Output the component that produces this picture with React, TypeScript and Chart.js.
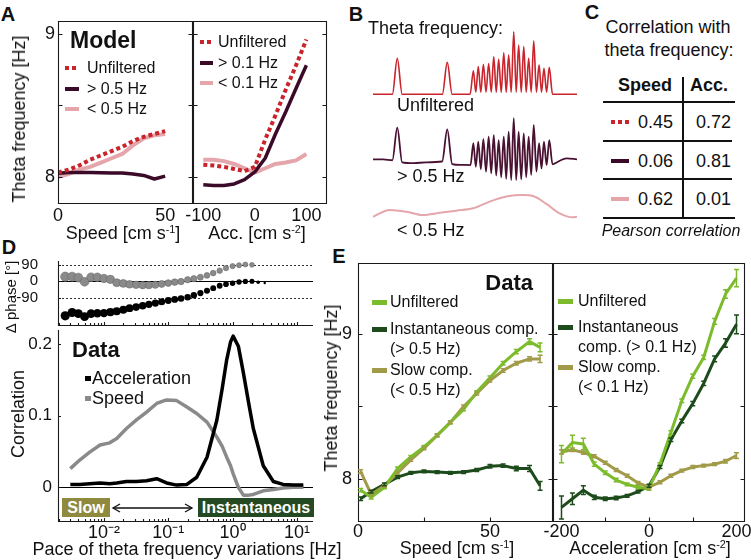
import React, { useEffect, useRef } from "react";
import { Chart, registerables } from "chart.js";

const FONT = '"Liberation Sans", Arial, Helvetica, sans-serif';
const INK = "#111111";

const RED = "#c9232b";
const PURPLE = "#3b0a29";
const PINK = "#e4a6ab";
const LGREEN = "#7cbc2c";
const DGREEN = "#1e4b1c";
const OLIVE = "#a19a48";
const GREY = "#8a8a8a";
const BLACK = "#000000";

// ---------------- Panel A (model) ----------------
const aSpeedX = [0, 5, 10, 15, 20, 25, 30, 35, 40, 45, 50];
const aSpeedUnf = [8.03, 8.05, 8.08, 8.12, 8.15, 8.18, 8.21, 8.25, 8.28, 8.30, 8.32];
const aSpeedHigh = [8.025, 8.03, 8.03, 8.03, 8.028, 8.027, 8.026, 8.02, 8.01, 7.985, 8.005];
const aSpeedLow = [8.0, 8.02, 8.05, 8.07, 8.10, 8.13, 8.16, 8.22, 8.27, 8.29, 8.30];
const aAccX = [-100, -80, -60, -40, -20, 0, 20, 40, 60, 80, 100];
const aAccUnf = [8.085, 8.08, 8.07, 8.055, 8.04, 8.07, 8.26, 8.43, 8.61, 8.78, 8.96];
const aAccHigh = [7.945, 7.94, 7.94, 7.95, 7.98, 8.035, 8.13, 8.30, 8.455, 8.62, 8.78];
const aAccLow = [8.12, 8.12, 8.11, 8.09, 8.06, 8.03, 8.06, 8.09, 8.10, 8.115, 8.16];
const aYTicks = [8, 8.5, 9];
const aYLabels = ["8", "", "9"];
const aSpeedTicks = [0, 50];
const aAccTicks = [-100, 0, 100];

// ---------------- Panel B (schematic traces) ----------------
const bRedT = [0, 9.5, 11.9, 14.3, 34, 36.4, 38.8, 47.6,
  49.2, 50.4, 51.6, 52.85, 54.1, 55.4, 56.7, 57.95, 59.2, 60.4, 61.6, 62.85, 64.1, 65.3, 66.5, 67.75,
  69.0, 70.2, 71.4, 72.65, 73.9, 75.1, 76.3, 77.55, 78.8, 80.1, 81.4, 82.6, 83.8, 85.1, 86.4,
  88.0, 100];
const bRedY = [67, 67, 84.1, 67, 67, 82.2, 67, 67,
  78.2, 68, 80.2, 68, 81.3, 68, 81.7, 68, 84.9, 68, 83.7, 68, 86.8, 68, 85.7, 68,
  96.8, 68, 90.5, 68, 89.7, 68, 84.1, 68, 92.5, 68, 81.0, 68, 79.4, 68, 79.8,
  67, 67];
const bPurT = [0, 5, 9.5, 11.9, 14.3, 20, 26, 33.9, 36.4, 38.8, 43, 47.8,
  49.2, 50.4, 51.6, 52.85, 54.1, 55.4, 56.7, 57.95, 59.2, 60.4, 61.6, 62.85, 64.1, 65.3, 66.5, 67.75,
  69.0, 70.2, 71.4, 72.65, 73.9, 75.1, 76.3, 77.55, 78.8, 80.1, 81.4, 82.6, 83.8, 85.1, 86.4,
  88.0, 89.2, 94.9, 100];
const bPurY = [36, 36, 35.6, 51.1, 34.6, 34.2, 34.6, 35, 50.3, 33.8, 33.4, 33.3,
  43.7, 32.5, 44.4, 31.3, 45.6, 30.2, 46.8, 29.4, 47.6, 28.3, 45.2, 27.5, 46.8, 26.7, 49.2, 26.2,
  55.6, 26.2, 49.2, 26.5, 48.4, 27.5, 46.8, 28.6, 52.4, 30.2, 43.7, 31.7, 44.4, 33.3, 45.2,
  33.6, 34.1, 36.5, 36];
const bPinkT = [0, 8.2, 16.3, 24.5, 32.7, 40.8, 49, 57.2, 65.4, 73.5, 78.4, 85, 91.5, 98, 100];
const bPinkY = [8.7, 11.9, 11.1, 9.5, 10.6, 11.6, 12.7, 15.9, 18.3, 19.0, 18.6, 14.8, 10.3, 8.4, 8.7];

// ---------------- Panel D ----------------
const dPhaseF = [0.0025, 0.0032, 0.004, 0.005, 0.0063, 0.0079, 0.01, 0.0126, 0.0158, 0.02, 0.025, 0.0316,
  0.04, 0.05, 0.063, 0.079, 0.1, 0.126, 0.158, 0.2, 0.25, 0.316, 0.4, 0.5, 0.63, 0.79, 1.0, 1.26, 1.58, 2.0, 2.5, 3.16];
const dPhaseSpeed = [25, 25, 20, -3, 22, 22, 15, 10, -8, -12, -17, -20, -22, -22, -20, -15, -10, -5, -2, 8,
  14, 22, 32, 45, 58, 72, 83, 88, 92, 90];
const dPhaseAcc = [-190, -172, -178, -195, -178, -176, -175, -170, -165, -157, -148, -142, -135, -127, -120,
  -113, -106, -100, -95, -88, -77, -65, -52, -38, -25, -16, -11, -4, -1, 0, -6, -10];
const dPhaseTicks = [90, 0, -90];
const dPhaseLabels = ["90", "0", "-90"];

const dCorrF = [0.003, 0.0042, 0.006, 0.0087, 0.0123, 0.0158, 0.0224, 0.032, 0.046, 0.066, 0.094, 0.135,
  0.195, 0.277, 0.40, 0.57, 0.69, 0.81, 0.93, 1.02, 1.23, 1.47, 1.8, 2.1, 3.0, 4.3, 6.1, 8.8, 12.6];
const dCorrSpeed = [0.026, 0.038, 0.049, 0.059, 0.062, 0.068, 0.082, 0.094, 0.105, 0.117, 0.122, 0.121,
  0.112, 0.103, 0.091, 0.070, 0.057, 0.042, 0.030, 0.019, 0.0, -0.011, -0.011, -0.010, -0.005, -0.003, -0.001, 0, 0];
const dCorrAcc = [0.004, 0.004, 0.005, 0.006, 0.005, 0.006, 0.008, 0.008, 0.009, 0.012, 0.006, 0.003,
  0.004, 0.014, 0.042, 0.094, 0.138, 0.178, 0.203, 0.211, 0.197, 0.16, 0.115, 0.082, 0.03, 0.008, 0.004, 0.003, 0.003];
const dCorrTicks = [0, 0.1, 0.2];
const dCorrLabels = ["0", "0.1", "0.2"];
const dFreqTicks = [0.01, 0.1, 1, 10];
const dFreqLabels = ["10⁻²", "10⁻¹", "10⁰", "10¹"];
const dMinorTicks = [0.002, 0.003, 0.004, 0.005, 0.006, 0.007, 0.008, 0.009,
  0.02, 0.03, 0.04, 0.05, 0.06, 0.07, 0.08, 0.09, 0.2, 0.3, 0.4, 0.5, 0.6, 0.7, 0.8, 0.9,
  2, 3, 4, 5, 6, 7, 8, 9];

// ---------------- Panel E (data) ----------------
const eSpeedX = [1, 5, 10, 15, 20, 25, 30, 35, 40, 45, 50, 55, 60, 65, 69];
const eSpeedUnf = [7.92, 7.87, 7.94, 8.07, 8.15, 8.22, 8.30, 8.39, 8.48, 8.60, 8.70, 8.80, 8.88, 8.95, 8.91];
const eSpeedInst = [7.86, 7.91, 7.96, 8.01, 8.04, 8.05, 8.045, 8.04, 8.045, 8.06, 8.085, 8.09, 8.07, 8.07, 7.95];
const eSpeedSlow = [8.05, 7.89, 7.95, 8.04, 8.13, 8.21, 8.30, 8.39, 8.50, 8.59, 8.68, 8.75, 8.80, 8.83, 8.83];
const eSpeedUnfErr = [0.012, 0.012, 0.01, 0.01, 0.01, 0.01, 0.01, 0.01, 0.01, 0.01, 0.012, 0.012, 0.015, 0.02, 0.03];
const eSpeedInstErr = [0.012, 0.01, 0.01, 0.01, 0.01, 0.01, 0.01, 0.01, 0.01, 0.01, 0.012, 0.012, 0.015, 0.02, 0.03];
const eSpeedSlowErr = [0.012, 0.01, 0.01, 0.01, 0.01, 0.01, 0.01, 0.01, 0.01, 0.01, 0.01, 0.012, 0.012, 0.015, 0.025];
const eAccX = [-200, -175, -150, -125, -100, -75, -50, -25, 0, 25, 50, 75, 100, 125, 150, 175, 200];
const eAccUnf = [8.17, 8.25, 8.24, 8.10, 8.04, 7.99, 7.96, 7.94, 7.93, 8.10, 8.32, 8.54, 8.71, 8.84, 9.09, 9.28, 9.39];
const eAccInst = [7.80, 7.86, 7.92, 7.87, 7.86, 7.865, 7.88, 7.91, 7.95, 8.08, 8.27, 8.40, 8.52, 8.66, 8.83, 8.94, 9.07];
const eAccSlow = [8.185, 8.20, 8.18, 8.155, 8.11, 8.06, 8.02, 7.97, 7.94, 7.975, 8.02, 8.055, 8.08, 8.09, 8.10, 8.12, 8.16];
const eAccUnfErr = [0.06, 0.05, 0.04, 0.015, 0.012, 0.012, 0.01, 0.01, 0.01, 0.01, 0.012, 0.012, 0.015, 0.015, 0.02, 0.03, 0.06];
const eAccInstErr = [0.08, 0.04, 0.03, 0.015, 0.012, 0.012, 0.01, 0.01, 0.01, 0.01, 0.012, 0.012, 0.015, 0.015, 0.02, 0.03, 0.065];
const eAccSlowErr = [0.015, 0.012, 0.012, 0.01, 0.01, 0.01, 0.01, 0.01, 0.01, 0.01, 0.01, 0.01, 0.01, 0.01, 0.01, 0.012, 0.02];
const eYTicks = [8, 8.5, 9];
const eYLabels = ["8", "", "9"];
const eSpeedTicks = [0, 25, 50];
const eSpeedLabels = ["0", "", "50"];
const eAccTicks = [-200, -100, 0, 100, 200];
const eAccLabels = ["-200", "", "0", "", "200"];

// ---------------- plugins ----------------
const framePlugin = {
  id: "frame",
  beforeDatasetsDraw(chart: any) {
    const o = chart.config.options.plugins?.frame;
    if (!o) return;
    const { ctx, chartArea: a, scales } = chart;
    ctx.save();
    for (const h of o.hlines || []) {
      const y = Math.round(scales.y.getPixelForValue(h.v)) + 0.5;
      ctx.beginPath();
      ctx.setLineDash(h.dash || []);
      ctx.strokeStyle = h.color || "#000";
      ctx.lineWidth = h.w || 1;
      ctx.moveTo(a.left, y);
      ctx.lineTo(a.right, y);
      ctx.stroke();
    }
    ctx.restore();
  },
  afterDatasetsDraw(chart: any) {
    const o = chart.config.options.plugins?.frame;
    if (!o) return;
    const { ctx, chartArea: a, scales } = chart;
    const L = Math.round(a.left) + 0.5, R = Math.round(a.right) - 0.5;
    const T = Math.round(a.top) + 0.5, B = Math.round(a.bottom) - 0.5;
    ctx.save();
    ctx.setLineDash([]);
    ctx.strokeStyle = o.color || "#1a1a1a";
    ctx.lineWidth = o.lw || 1.1;
    ctx.beginPath();
    if (o.left) { ctx.moveTo(L, T - 0.5); ctx.lineTo(L, B + 0.5); }
    if (o.right) { ctx.moveTo(R, T - 0.5); ctx.lineTo(R, B + 0.5); }
    if (o.top) { ctx.moveTo(L - 0.5, T); ctx.lineTo(R + 0.5, T); }
    if (o.bottom) { ctx.moveTo(L - 0.5, B); ctx.lineTo(R + 0.5, B); }
    const tl = o.tl ?? 4;
    for (const v of o.xt || []) {
      const x = Math.round(scales.x.getPixelForValue(v)) + 0.5;
      ctx.moveTo(x, B); ctx.lineTo(x, B - tl);
    }
    for (const v of o.xtMajor || []) {
      const x = Math.round(scales.x.getPixelForValue(v)) + 0.5;
      ctx.moveTo(x, B); ctx.lineTo(x, B - (o.tlMajor ?? 5));
    }
    for (const v of o.yt || []) {
      const y = Math.round(scales.y.getPixelForValue(v)) + 0.5;
      ctx.moveTo(L, y); ctx.lineTo(L + tl, y);
      if (o.ytRight) { ctx.moveTo(R, y); ctx.lineTo(R - tl, y); }
    }
    ctx.stroke();
    ctx.restore();
  },
};

const errPlugin = {
  id: "errbars",
  afterDatasetsDraw(chart: any) {
    const { ctx, scales } = chart;
    chart.data.datasets.forEach((ds: any) => {
      if (!ds.errors) return;
      ctx.save();
      ctx.strokeStyle = ds.borderColor;
      ctx.lineWidth = 1.5;
      ds.data.forEach((p: any, j: number) => {
        const e = ds.errors[j];
        if (!e) return;
        const x = scales.x.getPixelForValue(p.x);
        const y1 = scales.y.getPixelForValue(p.y - e);
        const y2 = scales.y.getPixelForValue(p.y + e);
        ctx.beginPath();
        ctx.moveTo(x, y1); ctx.lineTo(x, y2);
        ctx.moveTo(x - 2.5, y1); ctx.lineTo(x + 2.5, y1);
        ctx.moveTo(x - 2.5, y2); ctx.lineTo(x + 2.5, y2);
        ctx.stroke();
      });
      ctx.restore();
    });
  },
};

Chart.register(...registerables, framePlugin as any, errPlugin as any);

// ---------------- helpers ----------------
function axis(o: {
  type?: string; min: number; max: number; vals: number[]; labels?: string[];
  size?: number; pad?: number; fit: number; horiz: boolean;
}) {
  return {
    type: o.type || "linear",
    min: o.min,
    max: o.max,
    bounds: "data",
    grid: { display: false, drawTicks: false },
    border: { display: false },
    ticks: {
      display: !!o.labels,
      autoSkip: false,
      maxRotation: 0,
      minRotation: 0,
      padding: o.pad ?? 2,
      font: { family: FONT, size: o.size ?? 18 },
      color: INK,
      callback: (_v: any, i: number) => (o.labels ? o.labels[i] : ""),
    },
    afterBuildTicks: (s: any) => {
      s.ticks = o.vals.map((v) => ({ value: v }));
    },
    afterFit: (s: any) => {
      if (o.horiz) s.height = o.fit; else s.width = o.fit;
      s.paddingLeft = 0; s.paddingRight = 0; s.paddingTop = 0; s.paddingBottom = 0;
    },
  };
}

function lineDs(xs: number[], ys: number[], color: string, width: number, extra: any = {}) {
  return {
    data: xs.map((x, i) => ({ x, y: ys[i] })),
    borderColor: color,
    backgroundColor: color,
    borderWidth: width,
    pointRadius: 0,
    fill: false,
    tension: 0,
    borderCapStyle: "butt",
    borderJoinStyle: "round",
    ...extra,
  };
}

function cfg(datasets: any[], x: any, y: any, frame: any) {
  return {
    type: "line",
    data: { datasets },
    options: {
      animation: false,
      responsive: false,
      devicePixelRatio: 1,
      events: [],
      plugins: { legend: { display: false }, tooltip: { enabled: false }, frame },
      scales: { x, y },
    },
  };
}

function Plot({ area, m, build }: { area: number[]; m: number[]; build: (ml: number, mb: number) => any }) {
  const ref = useRef<HTMLCanvasElement>(null);
  const [l, t, r, b] = area;
  const [ml, mt, mr, mb] = m;
  const W = r - l + ml + mr;
  const H = b - t + mt + mb;
  useEffect(() => {
    const c = build(ml, mb);
    c.options.layout = { padding: { left: 0, top: mt, right: mr, bottom: 0 } };
    const ch = new Chart(ref.current as HTMLCanvasElement, c);
    return () => ch.destroy();
  }, []);
  return (
    <canvas
      ref={ref}
      width={W}
      height={H}
      style={{ position: "absolute", left: l - ml, top: t - mt, width: W, height: H }}
    />
  );
}

function Txt({ x, y, s = 18, b = false, i = false, a = "l", rot = false, color = INK, children }: any) {
  const tx = a === "c" ? "-50%" : a === "r" ? "-100%" : "0";
  return (
    <div
      style={{
        position: "absolute",
        left: x,
        top: y,
        transform: `translate(${tx}, -50%)${rot ? " rotate(-90deg)" : ""}`,
        fontFamily: FONT,
        fontSize: s,
        fontWeight: b ? 700 : 400,
        fontStyle: i ? "italic" : "normal",
        lineHeight: 1,
        whiteSpace: "nowrap",
        color,
      }}
    >
      {children}
    </div>
  );
}

const Sup = ({ children }: any) => (
  <sup style={{ fontSize: "0.6em", verticalAlign: "0.55em", lineHeight: 0 }}>{children}</sup>
);

function Sw({ x, y, w, h, color, dotted = false }: any) {
  return (
    <div
      style={{
        position: "absolute",
        left: x,
        top: y - h / 2,
        width: w,
        height: h,
        background: dotted
          ? `repeating-linear-gradient(to right, ${color} 0px, ${color} 4px, transparent 4px, transparent 7px)`
          : color,
      }}
    />
  );
}

function Rule({ x1, y1, x2, y2, w = 1.5 }: any) {
  const horiz = y1 === y2;
  return (
    <div
      style={{
        position: "absolute",
        left: horiz ? x1 : x1 - w / 2,
        top: horiz ? y1 - w / 2 : y1,
        width: horiz ? x2 - x1 : w,
        height: horiz ? w : y2 - y1,
        background: INK,
      }}
    />
  );
}

function Badge({ x, y, w, h, bg, children }: any) {
  return (
    <div
      style={{
        position: "absolute",
        left: x,
        top: y,
        width: w,
        height: h,
        background: bg,
        color: "#fff",
        fontFamily: FONT,
        fontWeight: 700,
        fontSize: 16,
        lineHeight: `${h}px`,
        textAlign: "center",
        whiteSpace: "nowrap",
      }}
    >
      {children}
    </div>
  );
}

// ---------------- App ----------------
export default function App() {
  const phaseRadius = (n: number, tail: boolean) => (ctx: any) => {
    const i = ctx.dataIndex;
    if (tail && i >= n - 2) return i === n - 1 ? 1.2 : 1.8;
    return 4.6 - 2.2 * (i / (n - 1));
  };

  return (
    <div style={{ position: "absolute", left: 0, top: 0, width: 751, height: 560, background: "#fff", overflow: "hidden" }}>
      {/* Panel letters */}
      <Txt x={8} y={14} s={20} b a="c">A</Txt>
      <Txt x={356} y={14} s={20} b a="c">B</Txt>
      <Txt x={592} y={12} s={20} b a="c">C</Txt>
      <Txt x={9} y={247} s={20} b a="c">D</Txt>
      <Txt x={339} y={256} s={20} b a="c">E</Txt>

      {/* ---------- Panel A ---------- */}
      <Plot
        area={[58, 21, 193, 204]}
        m={[58, 4, 2, 26]}
        build={(ml, mb) =>
          cfg(
            [
              lineDs(aSpeedX, aSpeedUnf, RED, 4, { borderDash: [4, 3] }),
              lineDs(aSpeedX, aSpeedHigh, PURPLE, 3.5),
              lineDs(aSpeedX, aSpeedLow, PINK, 4),
            ],
            axis({ min: 0, max: 63, vals: aSpeedTicks, labels: ["0", "50"], fit: mb, horiz: true, pad: 1 }),
            axis({ min: 7.81, max: 9.09, vals: aYTicks, labels: aYLabels, fit: ml, horiz: false, pad: 3 }),
            { left: true, right: true, top: true, bottom: true, yt: aYTicks, ytRight: true, tl: 4 }
          )
        }
      />
      <Plot
        area={[193, 21, 327, 204]}
        m={[26, 4, 8, 26]}
        build={(ml, mb) =>
          cfg(
            [
              lineDs(aAccX, aAccUnf, RED, 4, { borderDash: [4, 3] }),
              lineDs(aAccX, aAccHigh, PURPLE, 3.5),
              lineDs(aAccX, aAccLow, PINK, 4),
            ],
            axis({ min: -120, max: 140, vals: aAccTicks, labels: ["-100", "0", "100"], fit: mb, horiz: true, pad: 1 }),
            axis({ min: 7.81, max: 9.09, vals: aYTicks, fit: ml, horiz: false }),
            { left: true, right: true, top: true, bottom: true, yt: aYTicks, ytRight: true, tl: 4 }
          )
        }
      />
      <Txt x={19} y={119} rot a="c">Theta frequency [Hz]</Txt>
      <Txt x={123} y={233} a="c">Speed [cm s<Sup>-1</Sup>]</Txt>
      <Txt x={257} y={233} a="c">Acc. [cm s<Sup>-2</Sup>]</Txt>
      <Txt x={70} y={40} s={23} b>Model</Txt>
      <Sw x={65} y={68} w={14} h={4} color={RED} dotted />
      <Txt x={87} y={68} s={16}>Unfiltered</Txt>
      <Sw x={65} y={89} w={14} h={4} color={PURPLE} />
      <Txt x={87} y={89} s={16}>&gt; 0.5 Hz</Txt>
      <Sw x={65} y={109} w={14} h={4} color={PINK} />
      <Txt x={87} y={109} s={16}>&lt; 0.5 Hz</Txt>
      <Sw x={200} y={42} w={13} h={4} color={RED} dotted />
      <Txt x={218} y={42} s={16}>Unfiltered</Txt>
      <Sw x={200} y={63} w={13} h={4} color={PURPLE} />
      <Txt x={218} y={63} s={16}>&gt; 0.1 Hz</Txt>
      <Sw x={200} y={83} w={13} h={4} color={PINK} />
      <Txt x={218} y={83} s={16}>&lt; 0.1 Hz</Txt>

      {/* ---------- Panel B ---------- */}
      <Plot
        area={[373, 25, 577, 235]}
        m={[0, 0, 0, 0]}
        build={(ml, mb) =>
          cfg(
            [
              lineDs(bRedT, bRedY, RED, 1.6, { cubicInterpolationMode: "monotone" }),
              lineDs(bPurT, bPurY, "#4a1232", 1.8, { cubicInterpolationMode: "monotone" }),
              lineDs(bPinkT, bPinkY, PINK, 2, { cubicInterpolationMode: "monotone" }),
            ],
            axis({ min: 0, max: 100, vals: [], fit: mb, horiz: true }),
            axis({ min: 0, max: 100, vals: [], fit: ml, horiz: false }),
            null
          )
        }
      />
      <Txt x={368} y={28}>Theta frequency:</Txt>
      <Txt x={397} y={105}>Unfiltered</Txt>
      <Txt x={397} y={176}>&gt; 0.5 Hz</Txt>
      <Txt x={397} y={230}>&lt; 0.5 Hz</Txt>

      {/* ---------- Panel C ---------- */}
      <Txt x={668} y={27} a="c">Correlation with</Txt>
      <Txt x={669} y={50} a="c">theta frequency:</Txt>
      <Txt x={672} y={85} b a="r">Speed</Txt>
      <Txt x={690} y={85} b>Acc.</Txt>
      <Rule x1={603} y1={102} x2={735} y2={102} />
      <Rule x1={603} y1={141} x2={732} y2={141} />
      <Rule x1={603} y1={179} x2={732} y2={179} />
      <Rule x1={603} y1={218} x2={735} y2={218} />
      <Rule x1={683} y1={77} x2={683} y2={218} />
      <Sw x={611} y={122} w={19} h={4} color={RED} dotted />
      <Sw x={611} y={161} w={18} h={4} color={PURPLE} />
      <Sw x={611} y={199} w={18} h={4} color={PINK} />
      <Txt x={673} y={122} a="r">0.45</Txt>
      <Txt x={731} y={122} a="r">0.72</Txt>
      <Txt x={673} y={161} a="r">0.06</Txt>
      <Txt x={731} y={161} a="r">0.81</Txt>
      <Txt x={673} y={199} a="r">0.62</Txt>
      <Txt x={731} y={199} a="r">0.01</Txt>
      <Txt x={671} y={231} s={16} i a="c">Pearson correlation</Txt>

      {/* ---------- Panel D ---------- */}
      <Plot
        area={[58, 259, 313, 330]}
        m={[58, 3, 6, 1]}
        build={(ml, mb) =>
          cfg(
            [
              lineDs(dPhaseF.slice(0, dPhaseSpeed.length), dPhaseSpeed, GREY, 0.6, {
                showLine: false,
                pointRadius: phaseRadius(dPhaseSpeed.length, false),
                pointBackgroundColor: GREY,
                pointBorderColor: "#6a6a6a",
                pointBorderWidth: 0.6,
              }),
              lineDs(dPhaseF, dPhaseAcc, BLACK, 0.6, {
                showLine: false,
                pointRadius: phaseRadius(dPhaseAcc.length, true),
                pointBackgroundColor: BLACK,
                pointBorderColor: BLACK,
                pointBorderWidth: 0,
              }),
            ],
            axis({ type: "logarithmic", min: 0.00193, max: 17.8, vals: dFreqTicks, fit: mb, horiz: true }),
            axis({ min: -245, max: 110, vals: dPhaseTicks, labels: dPhaseLabels, fit: ml, horiz: false, pad: 20, size: 15 }),
            {
              left: true, bottom: true, yt: dPhaseTicks, xt: dMinorTicks, tl: 2.5, xtMajor: dFreqTicks, tlMajor: 3.5,
              hlines: [
                { v: 90, dash: [2, 2], color: "#333", w: 1 },
                { v: 0, color: "#000", w: 1 },
                { v: -90, dash: [2, 2], color: "#333", w: 1 },
              ],
            }
          )
        }
      />
      <Plot
        area={[58, 330, 313, 522]}
        m={[58, 2, 6, 26]}
        build={(ml, mb) =>
          cfg(
            [
              lineDs(dCorrF, dCorrAcc, BLACK, 3.5),
              lineDs(dCorrF, dCorrSpeed, GREY, 3.5),
            ],
            axis({ type: "logarithmic", min: 0.00193, max: 17.8, vals: dFreqTicks, labels: dFreqLabels, fit: mb, horiz: true, pad: 0 }),
            axis({ min: -0.0485, max: 0.2196, vals: dCorrTicks, labels: dCorrLabels, fit: ml, horiz: false, pad: 6, size: 17 }),
            {
              left: true, bottom: true, yt: dCorrTicks, xt: dMinorTicks, tl: 2.5, xtMajor: dFreqTicks, tlMajor: 3.5,
              hlines: [{ v: 0, color: "#000", w: 1 }],
            }
          )
        }
      />
      <Txt x={10} y={297} s={15} rot a="c">Δ phase [°]</Txt>
      <Txt x={18} y={414} rot a="c">Correlation</Txt>
      <Txt x={72} y={350} s={22} b>Data</Txt>
      <Sw x={85} y={378} w={6} h={5} color={BLACK} />
      <Txt x={92} y={378}>Acceleration</Txt>
      <Sw x={85} y={398} w={6} h={5} color={GREY} />
      <Txt x={92} y={398}>Speed</Txt>
      <Badge x={62} y={498} w={48} h={19} bg="#8f8a3e">Slow</Badge>
      <Badge x={198} y={498} w={116} h={19} bg="#254a23">Instantaneous</Badge>
      <svg style={{ position: "absolute", left: 108, top: 500 }} width={90} height={16}>
        <line x1={5} y1={8} x2={84} y2={8} stroke={INK} strokeWidth={1.3} />
        <polyline points="12,4 5,8 12,12" fill="none" stroke={INK} strokeWidth={1.3} />
        <polyline points="77,4 84,8 77,12" fill="none" stroke={INK} strokeWidth={1.3} />
      </svg>
      <Txt x={187} y={549} a="c">Pace of theta frequency variations [Hz]</Txt>

      {/* ---------- Panel E ---------- */}
      <Plot
        area={[358, 263, 553, 522]}
        m={[20, 2, 2, 24]}
        build={(ml, mb) =>
          cfg(
            [
              lineDs(eSpeedX, eSpeedUnf, LGREEN, 3, { errors: eSpeedUnfErr }),
              lineDs(eSpeedX, eSpeedSlow, OLIVE, 3, { errors: eSpeedSlowErr }),
              lineDs(eSpeedX, eSpeedInst, DGREEN, 3, { errors: eSpeedInstErr }),
            ],
            axis({ min: 0, max: 73.9, vals: eSpeedTicks, labels: eSpeedLabels, fit: mb, horiz: true, pad: -1 }),
            axis({ min: 7.699, max: 9.495, vals: eYTicks, labels: eYLabels, fit: ml, horiz: false, pad: 6 }),
            { left: true, right: true, top: true, bottom: true, yt: eYTicks, ytRight: true, xt: [25, 50], tl: 4 }
          )
        }
      />
      <Plot
        area={[553, 263, 745, 522]}
        m={[28, 2, 6, 24]}
        build={(ml, mb) =>
          cfg(
            [
              lineDs(eAccX, eAccUnf, LGREEN, 3, { errors: eAccUnfErr }),
              lineDs(eAccX, eAccSlow, OLIVE, 3, { errors: eAccSlowErr }),
              lineDs(eAccX, eAccInst, DGREEN, 3, { errors: eAccInstErr }),
            ],
            axis({ min: -219.4, max: 219.4, vals: eAccTicks, labels: eAccLabels, fit: mb, horiz: true, pad: -1 }),
            axis({ min: 7.699, max: 9.495, vals: eYTicks, fit: ml, horiz: false }),
            { left: true, right: true, top: true, bottom: true, yt: eYTicks, ytRight: true, xt: [-100, 0, 100], tl: 4 }
          )
        }
      />
      <Txt x={331} y={388} rot a="c">Theta frequency [Hz]</Txt>
      <Txt x={457} y={548} a="c">Speed [cm s<Sup>-1</Sup>]</Txt>
      <Txt x={650} y={548} a="c">Acceleration [cm s<Sup>-2</Sup>]</Txt>
      <Txt x={533} y={283} s={22} b a="r">Data</Txt>
      <Sw x={372} y={302} w={15} h={5} color={LGREEN} />
      <Txt x={390} y={302} s={16}>Unfiltered</Txt>
      <Sw x={372} y={329} w={15} h={5} color={DGREEN} />
      <Txt x={390} y={329} s={16}>Instantaneous comp.</Txt>
      <Txt x={390} y={349} s={16}>(&gt; 0.5 Hz)</Txt>
      <Sw x={372} y={370} w={15} h={5} color={OLIVE} />
      <Txt x={390} y={370} s={16}>Slow comp.</Txt>
      <Txt x={390} y={390} s={16}>(&lt; 0.5 Hz)</Txt>
      <Sw x={558} y={301} w={15} h={5} color={LGREEN} />
      <Txt x={578} y={301} s={16}>Unfiltered</Txt>
      <Sw x={558} y={327} w={15} h={5} color={DGREEN} />
      <Txt x={578} y={327} s={16}>Instantaneous</Txt>
      <Txt x={578} y={347} s={16}>comp. (&gt; 0.1 Hz)</Txt>
      <Sw x={558} y={367} w={15} h={5} color={OLIVE} />
      <Txt x={578} y={367} s={16}>Slow comp.</Txt>
      <Txt x={578} y={387} s={16}>(&lt; 0.1 Hz)</Txt>
    </div>
  );
}
